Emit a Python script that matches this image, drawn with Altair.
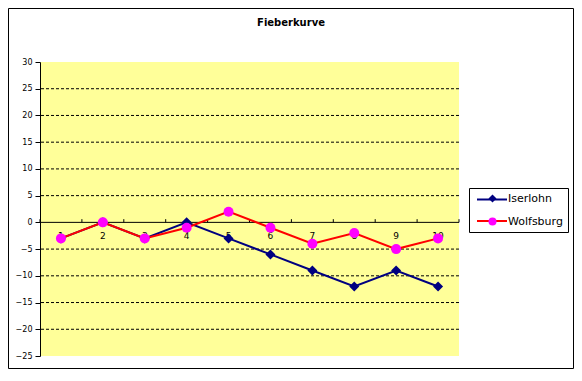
import altair as alt
import pandas as pd

# ---- data ----
days = [1, 2, 3, 4, 5, 6, 7, 8, 9, 10]
iserlohn = [-3, 0, -3, 0, -3, -6, -9, -12, -9, -12]
wolfsburg = [-3, 0, -3, -1, 2, -1, -4, -2, -5, -3]
series = ["Iserlohn", "Wolfsburg"]
line_colors = ["#000080", "#FF0000"]
marker_colors = ["#000080", "#FF00FF"]
marker_shapes = ["diamond", "circle"]
y_ticks = [-25, -20, -15, -10, -5, 0, 5, 10, 15, 20, 25, 30]
grid_values = [25, 20, 15, 10, 5, -5, -10, -15, -20]
x_boundaries = [0.5, 1.5, 2.5, 3.5, 4.5, 5.5, 6.5, 7.5, 8.5, 9.5, 10.5]

FONT = "DejaVu Sans"

df = pd.DataFrame({
    "day": days * 2,
    "series": ["Iserlohn"] * len(days) + ["Wolfsburg"] * len(days),
    "value": iserlohn + wolfsburg,
})
df["marker"] = df["series"]

xscale = alt.Scale(domain=[0.5, 10.5], nice=False, zero=False)
yscale = alt.Scale(domain=[-25, 30], nice=False, zero=False)
y_axis = alt.Axis(values=y_ticks, grid=False, tickSize=5, tickColor="black",
                  domainColor="black", labelFont=FONT, labelFontSize=8,
                  labelColor="black", labelPadding=3, title=None)


def X(field):
    return alt.X(field, scale=xscale, axis=None, title=None)


def Y(field):
    return alt.Y(field, scale=yscale, axis=y_axis, title=None)


# line-symbol legend (symbols only, drawn underneath)
line_legend = alt.Legend(orient="none", legendX=431, legendY=116.5, title=None,
                         symbolType="stroke", symbolSize=900, symbolStrokeWidth=2,
                         labelFont=FONT, labelFontSize=11, labelOpacity=0,
                         labelOffset=4, padding=5, rowPadding=0.5)
# marker legend with box and labels (drawn on top)
point_legend = alt.Legend(orient="none", legendX=429, legendY=126, title=None,
                          symbolSize=64, symbolStrokeWidth=0, symbolOffset=13,
                          labelFont=FONT, labelFontSize=11, labelColor="black",
                          labelOffset=10, padding=5, rowPadding=11, zindex=1,
                          strokeColor="black", cornerRadius=0)

color_scale = alt.Scale(domain=series, range=line_colors)
fill_scale = alt.Scale(range=marker_colors)
shape_scale = alt.Scale(range=marker_shapes)

base = alt.Chart(df)

grid = alt.Chart(pd.DataFrame({"g": grid_values})).mark_rule(
    color="black", strokeWidth=1, strokeDash=[3, 2]
).encode(y=Y("g:Q"))

zero_line = alt.Chart(pd.DataFrame({"z": [0]})).mark_rule(
    color="black", strokeWidth=1
).encode(y=Y("z:Q"))

tick_df = pd.DataFrame({"b": x_boundaries, "y0": [0] * len(x_boundaries),
                        "y1": [0.6] * len(x_boundaries)})
xticks = alt.Chart(tick_df).mark_rule(
    color="black", strokeWidth=1
).encode(x=X("b:Q"), y=Y("y0:Q"), y2="y1:Q")

lab_df = pd.DataFrame({"d": days, "y0": [0] * len(days)})
xlabels = alt.Chart(lab_df).mark_text(
    dy=14, font=FONT, fontSize=9, color="black"
).encode(x=X("d:Q"), y=Y("y0:Q"), text="d:N")

layers = [grid, zero_line, xticks, xlabels]
for s in series:
    sub = base.transform_filter(alt.datum.series == s)
    layers.append(sub.mark_line(strokeWidth=2).encode(
        x=X("day:Q"), y=Y("value:Q"),
        color=alt.Color("series:N", scale=color_scale, legend=line_legend)))
    layers.append(sub.mark_point(filled=True, size=100, opacity=1, strokeWidth=0).encode(
        x=X("day:Q"), y=Y("value:Q"),
        fill=alt.Fill("marker:N", scale=fill_scale, legend=point_legend),
        shape=alt.Shape("marker:N", scale=shape_scale, legend=point_legend)))

border = alt.Chart(pd.DataFrame({"k": [0]})).mark_rect(
    fill="transparent", stroke="black", strokeWidth=1
).encode(x=alt.value(-31.5), x2=alt.value(533.5), y=alt.value(-53.5), y2=alt.value(306.5))
layers.append(border)

chart = alt.layer(*layers).properties(
    width=419, height=294,
    autosize=alt.AutoSizeParams(type="none"),
    padding={"left": 32, "top": 54, "right": 115, "bottom": 13},
    title=alt.Title("Fieberkurve", font=FONT, fontSize=10, fontWeight="bold",
                    color="black", anchor="middle", frame="group", dx=41.5,
                    offset=0, dy=20),
    background="white",
).configure_view(fill="#FFFF99", stroke=None)

chart.save("out.html", embed_options={"renderer": "svg", "actions": False})
